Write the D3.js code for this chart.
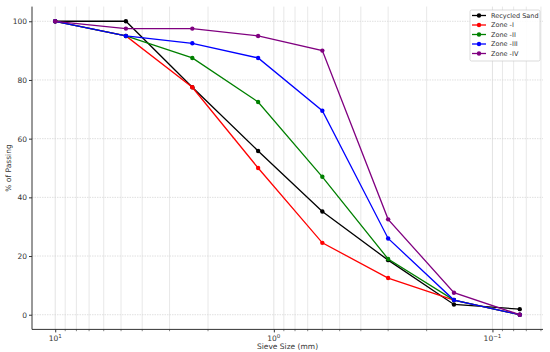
<!DOCTYPE html>
<html>
<head>
<meta charset="utf-8">
<script src="https://cdn.jsdelivr.net/npm/d3@7"></script>
<style>
  body { margin: 0; background: #fff; }
  text { font-family: "DejaVu Sans", sans-serif; fill: #333; }
</style>
</head>
<body>
<svg id="chart" width="550" height="352"></svg>
<script>
(function() {

  // sieve sizes (mm)
  let sieves = [10, 4.75, 2.36, 1.18, 0.6, 0.3, 0.15, 0.075];

  // % passing for each curve
  let recycled = [100, 100, 77.5, 55.8, 35.2, 18.6, 3.5, 1.9];
  let zone1 = [100, 95, 77.5, 50, 24.5, 12.5, 5, 0];
  let zone2 = [100, 95, 87.5, 72.5, 47, 19, 5, 0];
  let zone3 = [100, 95, 92.5, 87.5, 69.5, 26, 5, 0];
  let zone4 = [100, 97.5, 97.5, 95, 90, 32.5, 7.5, 0];

  let names = ["Recycled Sand", "Zone -I", "Zone -II", "Zone -III", "Zone -IV"];
  let colors = ["black", "red", "green", "blue", "purple"];
  let yTicks = [0, 20, 40, 60, 80, 100];
  let xTicks = [10, 1, 0.1];
  let xTickLabels = ["1", "0", "\u22121"];

  let series = [recycled, zone1, zone2, zone3, zone4];

  let left = 32, right = 543, top = 6.6, bottom = 329.4;

  let svg = d3.select("#chart");

  let xScale = d3.scaleLog()
                 .domain([Math.pow(10, 1.10625), Math.pow(10, -1.23125)])
                 .range([left, right]);
  let yScale = d3.scaleLinear()
                 .domain([-5, 105])
                 .range([bottom, top]);

  // minor positions for log grid
  let minor = [];
  [0.01, 0.1, 1, 10].forEach(function(d) {
    for (let k = 2; k <= 9; k++) minor.push(d * k);
  });
  minor = minor.filter(v => xScale(v) > left && xScale(v) < right);

  // grid
  let grid = svg.append("g");
  grid.selectAll(".gx-minor")
      .data(minor)
      .enter().append("line")
      .attr("x1", d => xScale(d)).attr("x2", d => xScale(d))
      .attr("y1", top).attr("y2", bottom)
      .attr("stroke", "#e2e2e2")
      .attr("stroke-width", 0.8);
  grid.selectAll(".gx-major")
      .data(xTicks)
      .enter().append("line")
      .attr("x1", d => xScale(d)).attr("x2", d => xScale(d))
      .attr("y1", top).attr("y2", bottom)
      .attr("stroke", "#dcdcdc")
      .attr("stroke-width", 0.8);
  grid.selectAll(".gy")
      .data(yTicks)
      .enter().append("line")
      .attr("x1", left).attr("x2", right)
      .attr("y1", d => yScale(d)).attr("y2", d => yScale(d))
      .attr("stroke", "#d8d8d8")
      .attr("stroke-dasharray", "1.5,1")
      .attr("stroke-width", 0.8);

  // axes
  let yAxis = d3.axisLeft(yScale)
                .tickValues(yTicks)
                .tickSize(3)
                .tickPadding(2);
  let gy = svg.append("g")
     .attr("transform", "translate(" + left + ",0)")
     .call(yAxis);
  gy.select(".domain").attr("d", "M0," + top + "V" + bottom).attr("stroke", "#333");
  gy.selectAll(".tick line").attr("stroke", "#333");
  gy.selectAll(".tick text").attr("font-size", "7.5px").attr("fill", "#333");

  let xAxis = d3.axisBottom(xScale)
                .tickValues(xTicks)
                .tickSize(3)
                .tickFormat("");
  let gx = svg.append("g")
     .attr("transform", "translate(0," + bottom + ")")
     .call(xAxis);
  gx.select(".domain").attr("d", "M" + left + ",0H" + right).attr("stroke", "#333");
  gx.selectAll(".tick line").attr("stroke", "#333");

  svg.append("g").selectAll("line")
     .data(minor)
     .enter().append("line")
     .attr("x1", d => xScale(d)).attr("x2", d => xScale(d))
     .attr("y1", bottom).attr("y2", bottom + 1.8)
     .attr("stroke", "#333")
     .attr("stroke-width", 0.6);

  // tick labels 10^n
  xTicks.forEach(function(t, i) {
    let txt = svg.append("text")
       .attr("x", xScale(t))
       .attr("y", bottom + 12)
       .attr("text-anchor", "middle")
       .attr("font-size", "7.5px");
    txt.append("tspan").text("10");
    txt.append("tspan")
       .attr("dy", -3.5)
       .attr("font-size", "5.5px")
       .text(xTickLabels[i]);
  });

  svg.append("text")
     .attr("x", (left + right) / 2)
     .attr("y", 349)
     .attr("text-anchor", "middle")
     .attr("font-size", "7.5px")
     .text("Sieve Size (mm)");
  svg.append("text")
     .attr("transform", "translate(11," + ((top + bottom) / 2) + ") rotate(-90)")
     .attr("text-anchor", "middle")
     .attr("font-size", "7.5px")
     .text("% of Passing");

  // lines and markers
  let line = d3.line()
               .x((d, i) => xScale(sieves[i]))
               .y(d => yScale(d));

  series.forEach(function(s, k) {
    svg.append("path")
       .datum(s)
       .attr("fill", "none")
       .attr("stroke", colors[k])
       .attr("stroke-width", 1.3)
       .attr("d", line);
    svg.append("g").selectAll("circle")
       .data(s)
       .enter().append("circle")
       .attr("cx", (d, i) => xScale(sieves[i]))
       .attr("cy", d => yScale(d))
       .attr("r", 2.2)
       .attr("fill", colors[k]);
  });

  // legend
  let lg = svg.append("g").attr("transform", "translate(470,10)");
  lg.append("rect")
    .attr("width", 70).attr("height", 51)
    .attr("fill", "white")
    .attr("fill-opacity", 0.85)
    .attr("stroke", "#ccc")
    .attr("stroke-width", 0.7)
    .attr("rx", 1.5);
  names.forEach(function(n, i) {
    let yy = 5.5 + i * 9.5;
    lg.append("line")
      .attr("x1", 2).attr("x2", 16)
      .attr("y1", yy).attr("y2", yy)
      .attr("stroke", colors[i])
      .attr("stroke-width", 1.3);
    lg.append("circle")
      .attr("cx", 9).attr("cy", yy).attr("r", 2.2)
      .attr("fill", colors[i]);
    lg.append("text")
      .attr("x", 21).attr("y", yy + 2.3)
      .attr("font-size", "6.5px")
      .text(n);
  });

})();
</script>
</body>
</html>
